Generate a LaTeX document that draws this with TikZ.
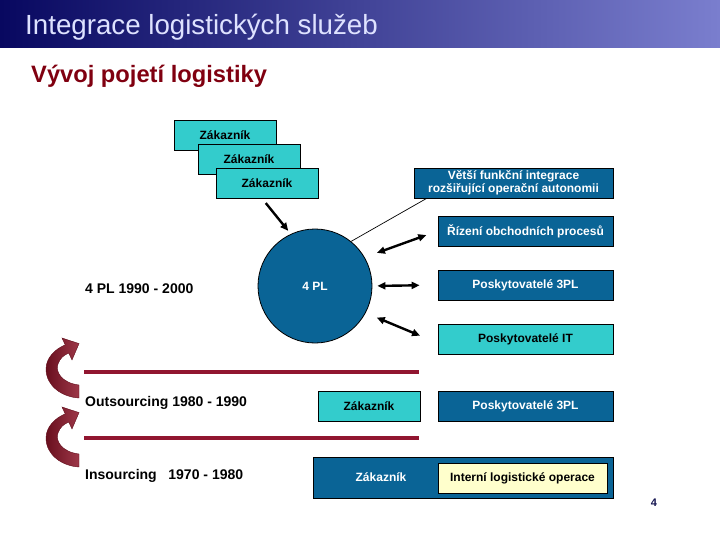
\documentclass[tikz,border=0pt]{standalone}
\usepackage{fontspec}
\setmainfont{Liberation Sans}
\usetikzlibrary{arrows.meta}
\definecolor{barleft}{RGB}{8,8,96}
\definecolor{barright}{RGB}{122,126,206}
\definecolor{titletext}{RGB}{222,226,255}
\definecolor{headred}{RGB}{128,0,16}
\definecolor{boxblue}{RGB}{10,100,150}
\definecolor{boxcyan}{RGB}{51,204,204}
\definecolor{boxcream}{RGB}{255,255,204}
\definecolor{linered}{RGB}{145,22,48}
\definecolor{curlred}{RGB}{140,20,40}
\definecolor{pagenavy}{RGB}{20,20,80}

\begin{document}
\begin{tikzpicture}[x=1pt, y=-1pt, >={Triangle[length=8pt,width=7pt]},
	every node/.style={font=\fontsize{12}{12.5}\selectfont\bfseries, inner sep=0pt},
	cyanbox/.style={draw, line width=0.8pt, fill=boxcyan, minimum height=30pt},
	bluebox/.style={draw, line width=0.8pt, fill=boxblue, text=white, minimum height=30pt},
	period/.style={anchor=base west, font=\fontsize{14}{16}\selectfont\bfseries},
	fat/.style={line width=2.4pt},
	redrule/.style={linered, line width=4pt},
	curl/.pic={
		\path[draw=curlred!70!black, line width=0.4pt, left color=curlred!75!black, right color=curlred!85!white]
			(79,385) .. controls (62,383) and (55,372) .. (58,364)
			.. controls (60,358) and (64,355) .. (68.8,353.1) -- (72,360) -- (79,343.6) -- (62,338) -- (65.2,344.9)
			.. controls (55,349) and (46,358) .. (46,369)
			.. controls (46,386) and (62,397) .. (79,398) -- cycle;
	}]
	\useasboundingbox (0,0) rectangle (720,540);
	\shade[left color=barleft, right color=barright] (0,0) rectangle (720,48);
	\node[anchor=base west, text=titletext, font=\fontsize{27.7}{30}\selectfont] (title) at (25,35) {Integrace logistických služeb};
	\node[anchor=base west, text=headred, font=\fontsize{23.7}{26}\selectfont\bfseries] (subtitle) at (31,83) {Vývoj pojetí logistiky};

	\node[cyanbox, minimum width=102pt] (zak1) at (225,135) {Zákazník};
	\node[cyanbox, minimum width=102pt] (zak2) at (249,159) {Zákazník};
	\node[cyanbox, minimum width=102pt] (zak3) at (267,183) {Zákazník};
	\node[bluebox, minimum width=199pt, align=center] (vetsi) at (513.5,183) {Větší funkční integrace\\rozšiřující operační autonomii};
	\node[draw, circle, line width=0.8pt, fill=boxblue, text=white, minimum size=114pt] (pl4) at (315,286) {4 PL};
	\node[bluebox, minimum width=175pt] (rizeni) at (525.5,231) {Řízení obchodních procesů};
	\node[bluebox, minimum width=175pt] (tripl) at (525.5,285) {Poskytovatelé 3PL};
	\node[cyanbox, minimum width=175pt] (itprov) at (525.5,339) {Poskytovatelé IT};

	\draw[->, fat, shorten <=6pt, shorten >=4pt] ([xshift=-5pt]zak3.south) -- (pl4.115);
	\draw[line width=0.7pt] ([xshift=13pt]vetsi.south west) -- (pl4.51);
	\draw[<->, fat, shorten <=13pt, shorten >=12pt] (pl4.30) -- (rizeni.west);
	\draw[<->, fat, shorten <=5pt, shorten >=18pt] (pl4.east) -- (tripl.west);
	\draw[<->, fat, shorten <=12pt, shorten >=19pt] (pl4.-28) -- ([yshift=-4pt]itprov.west);

	\node[period] (era4) at (85,293) {4 PL 1990 - 2000};
	\node[period] (eraout) at (85,406.5) {Outsourcing 1980 - 1990};
	\node[period] (erain) at (85,479) {Insourcing\ \ \ 1970 - 1980};

	\draw[redrule] (84,372) -- (419,372);
	\draw[redrule] (84,438) -- (419,438);
	\pic at (0,0) {curl};
	\pic at (0,69) {curl};

	\node[cyanbox, minimum width=102pt] (zak4) at (369,406) {Zákazník};
	\node[bluebox, minimum width=175pt] (tripl2) at (525.5,406) {Poskytovatelé 3PL};
	\node[bluebox, minimum width=300pt, minimum height=41pt] (inhouse) at (463,477.5) {};
	\node[text=white] (zak5) at (381,477) {Zákazník};
	\node[draw, line width=0.8pt, fill=boxcream, minimum width=169pt, minimum height=30pt] (interni) at (522.5,478) {Interní logistické operace};
	\node[text=pagenavy, font=\fontsize{11}{12}\selectfont\bfseries] (page) at (654,503) {4};
\end{tikzpicture}
\end{document}
